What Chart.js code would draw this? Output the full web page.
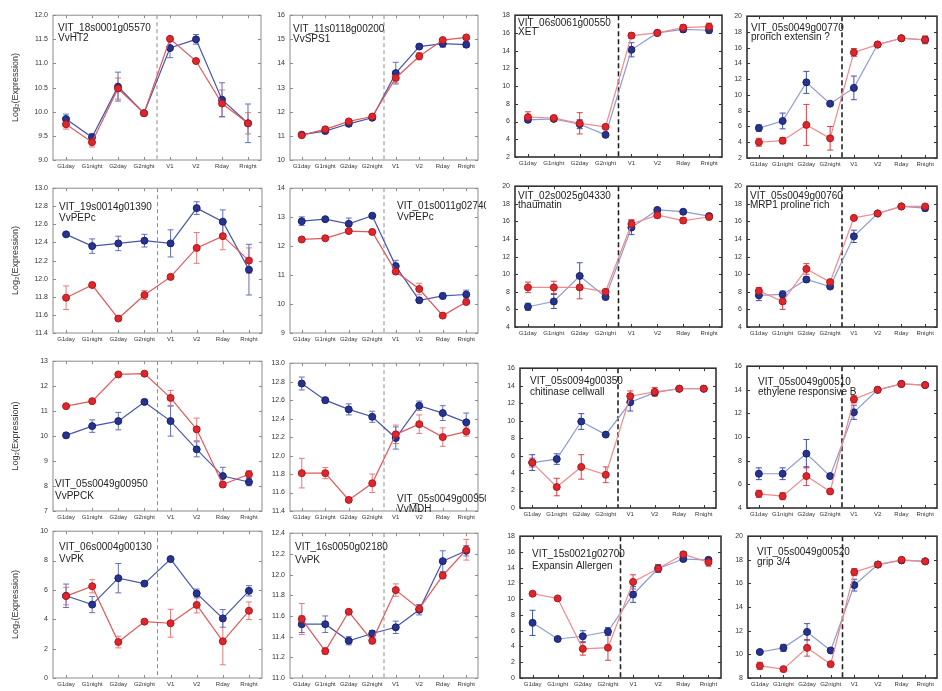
<!DOCTYPE html>
<html>
<head>
<meta charset="utf-8">
<script src="https://cdn.jsdelivr.net/npm/chart.js@4.4.0/dist/chart.umd.min.js"></script>
<style>
    body { margin: 0; background: #fff; width: 942px; height: 691px; position: relative; overflow: hidden; }
</style>
</head>
<body>
<script>
// Sampling stages (x axis)
const stages = ["G1day", "G1night", "G2day", "G2night", "V1", "V2", "Rday", "Rnight"];

// Log2 expression, mean and error per stage, blue and red lines
const ht2Blue = [9.85, 9.47, 10.52, 9.97, 11.32, 11.50, 10.25, 9.76];
const ht2BlueErr = [0.1, 0.08, 0.3, 0.03, 0.2, 0.1, 0.35, 0.4];
const ht2Red = [9.74, 9.37, 10.48, 9.97, 11.51, 11.05, 10.17, 9.76];
const ht2RedErr = [0.1, 0.1, 0.22, 0.03, 0.05, 0.05, 0.28, 0.22];

const sps1Blue = [11.05, 11.2, 11.5, 11.75, 13.6, 14.7, 14.82, 14.78];
const sps1BlueErr = [0.05, 0.08, 0.1, 0.05, 0.45, 0.1, 0.15, 0.12];
const sps1Red = [11.03, 11.27, 11.6, 11.8, 13.4, 14.3, 14.97, 15.08];
const sps1RedErr = [0.05, 0.05, 0.05, 0.05, 0.2, 0.15, 0.05, 0.05];

const xetBlue = [6.2, 6.3, 5.7, 4.5, 14.1, 16.0, 16.4, 16.3];
const xetBlueErr = [0.3, 0.2, 0.5, 0.2, 0.8, 0.1, 0.3, 0.3];
const xetRed = [6.5, 6.4, 5.8, 5.4, 15.7, 16.0, 16.6, 16.7];
const xetRedErr = [0.6, 0.2, 1.2, 0.2, 0.3, 0.1, 0.3, 0.4];

const extBlue = [5.8, 6.7, 11.6, 8.9, 10.9, 16.4, 17.2, 17.0];
const extBlueErr = [0.4, 1.0, 1.4, 0.1, 1.5, 0.2, 0.2, 0.4];
const extRed = [4.0, 4.2, 6.2, 4.5, 15.4, 16.4, 17.2, 17.0];
const extRedErr = [0.5, 0.4, 2.6, 1.5, 0.5, 0.2, 0.2, 0.5];

const pepc19Blue = [12.49, 12.36, 12.39, 12.42, 12.39, 12.78, 12.63, 12.1];
const pepc19BlueErr = [0.02, 0.08, 0.08, 0.07, 0.15, 0.07, 0.13, 0.28];
const pepc19Red = [11.79, 11.93, 11.56, 11.82, 12.02, 12.34, 12.47, 12.2];
const pepc19RedErr = [0.13, 0.02, 0.02, 0.05, 0.02, 0.17, 0.15, 0.14];

const pepc01Blue = [12.86, 12.93, 12.77, 13.05, 11.31, 10.13, 10.28, 10.33];
const pepc01BlueErr = [0.15, 0.05, 0.2, 0.05, 0.2, 0.05, 0.1, 0.15];
const pepc01Red = [12.23, 12.27, 12.52, 12.49, 11.12, 10.52, 9.6, 10.07];
const pepc01RedErr = [0.05, 0.05, 0.05, 0.05, 0.1, 0.2, 0.05, 0.05];

const thauBlue = [6.3, 6.9, 9.8, 7.4, 15.3, 17.3, 17.1, 16.6];
const thauBlueErr = [0.4, 0.8, 1.5, 0.2, 0.8, 0.2, 0.2, 0.3];
const thauRed = [8.5, 8.5, 8.5, 8.0, 15.7, 16.7, 16.1, 16.5];
const thauRedErr = [0.6, 0.7, 1.3, 0.3, 0.5, 0.3, 0.3, 0.3];

const mrp1Blue = [7.6, 7.7, 9.4, 8.6, 14.3, 16.9, 17.7, 17.5];
const mrp1BlueErr = [0.6, 0.4, 0.3, 0.2, 0.7, 0.1, 0.1, 0.3];
const mrp1Red = [8.1, 6.9, 10.6, 9.1, 16.4, 16.9, 17.7, 17.7];
const mrp1RedErr = [0.4, 0.9, 0.6, 0.2, 0.2, 0.1, 0.1, 0.2];

const ppckBlue = [10.03, 10.4, 10.6, 11.37, 10.6, 9.47, 8.4, 8.16];
const ppckBlueErr = [0.1, 0.25, 0.35, 0.1, 0.6, 0.3, 0.35, 0.15];
const ppckRed = [11.2, 11.4, 12.47, 12.5, 11.53, 10.27, 8.06, 8.47];
const ppckRedErr = [0.05, 0.05, 0.05, 0.05, 0.3, 0.45, 0.1, 0.15];

const mdhBlue = [12.78, 12.6, 12.5, 12.42, 12.19, 12.54, 12.46, 12.36];
const mdhBlueErr = [0.07, 0.03, 0.06, 0.06, 0.12, 0.05, 0.08, 0.1];
const mdhRed = [11.81, 11.81, 11.52, 11.7, 12.23, 12.34, 12.2, 12.26];
const mdhRedErr = [0.16, 0.06, 0.02, 0.1, 0.1, 0.1, 0.1, 0.05];

const chitBlue = [5.2, 5.6, 9.9, 8.4, 12.1, 13.2, 13.65, 13.65];
const chitBlueErr = [0.9, 0.6, 0.9, 0.2, 1.0, 0.2, 0.1, 0.1];
const chitRed = [5.2, 2.4, 4.7, 3.8, 12.8, 13.3, 13.65, 13.65];
const chitRedErr = [0.5, 1.0, 1.4, 0.9, 0.6, 0.5, 0.2, 0.2];

const erfBlue = [6.9, 6.9, 8.6, 6.7, 12.1, 14.0, 14.5, 14.4];
const erfBlueErr = [0.5, 0.5, 1.2, 0.1, 0.6, 0.1, 0.1, 0.1];
const erfRed = [5.2, 5.0, 6.7, 5.4, 13.2, 14.0, 14.5, 14.4];
const erfRedErr = [0.3, 0.3, 0.8, 0.1, 0.3, 0.1, 0.1, 0.1];

const pk06Blue = [5.6, 5.0, 6.8, 6.43, 8.1, 5.76, 4.06, 5.94];
const pk06BlueErr = [0.8, 0.55, 1.0, 0.1, 0.1, 0.3, 0.6, 0.35];
const pk06Red = [5.58, 6.25, 2.45, 3.84, 3.73, 4.98, 2.5, 4.58];
const pk06RedErr = [0.6, 0.45, 0.4, 0.1, 0.95, 0.55, 1.6, 0.6];

const pk16Blue = [11.52, 11.52, 11.36, 11.43, 11.49, 11.66, 12.13, 12.23];
const pk16BlueErr = [0.08, 0.08, 0.04, 0.03, 0.06, 0.05, 0.1, 0.05];
const pk16Red = [11.57, 11.26, 11.64, 11.36, 11.85, 11.67, 11.99, 12.24];
const pk16RedErr = [0.15, 0.03, 0.02, 0.03, 0.06, 0.04, 0.03, 0.1];

const expaBlue = [7.0, 4.95, 5.3, 5.9, 10.6, 13.9, 15.1, 15.0];
const expaBlueErr = [1.6, 0.1, 0.7, 0.5, 1.0, 0.5, 0.2, 0.2];
const expaRed = [10.7, 10.1, 3.7, 3.85, 12.2, 13.9, 15.7, 14.7];
const expaRedErr = [0.1, 0.1, 0.8, 1.6, 0.9, 0.4, 0.3, 0.5];

const gripBlue = [10.2, 10.55, 11.9, 10.33, 15.86, 17.6, 17.95, 17.87];
const gripBlueErr = [0.1, 0.3, 0.7, 0.1, 0.5, 0.1, 0.1, 0.1];
const gripRed = [9.03, 8.75, 10.55, 9.17, 16.96, 17.6, 18.0, 17.87];
const gripRedErr = [0.3, 0.1, 0.7, 0.1, 0.3, 0.1, 0.1, 0.1];

// Y axis ranges: [min, max, step, decimals]
const ht2Axis = [9, 12, 0.5, 1];
const sps1Axis = [10, 16, 1, 0];
const xetAxis = [2, 18, 2, 0];
const extAxis = [2, 20, 2, 0];
const pepc19Axis = [11.4, 13.0, 0.2, 1];
const pepc01Axis = [9, 14, 1, 0];
const thauAxis = [4, 20, 2, 0];
const mrp1Axis = [4, 20, 2, 0];
const ppckAxis = [7, 13, 1, 0];
const mdhAxis = [11.4, 13.0, 0.2, 1];
const chitAxis = [0, 16, 2, 0];
const erfAxis = [4, 16, 2, 0];
const pk06Axis = [0, 10, 2, 0];
const pk16Axis = [11.0, 12.4, 0.2, 1];
const expaAxis = [0, 18, 2, 0];
const gripAxis = [8, 20, 2, 0];

// Two looks: thin grey frames for the first two columns, heavy black ones for the others
const themes = {
    light: {
        frame: "#8c8c8c", frameWidth: 1, sep: "#8c8c8c", sepWidth: 1, sepDash: [4, 3],
        red: { line: "#e2575a", dot: "#e0262b", edge: "#a9181d", err: "#e67a7c" },
        blue: { line: "#4756ad", dot: "#26338f", edge: "#18226a", err: "#6370bb" },
    },
    dark: {
        frame: "#333", frameWidth: 1.6, sep: "#222", sepWidth: 1.6, sepDash: [5, 3],
        red: { line: "#f08a8c", dot: "#e0262b", edge: "#a9181d", err: "#d94045" },
        blue: { line: "#8d9bd3", dot: "#26338f", edge: "#18226a", err: "#3e51b0" },
    },
};

// Panel layout: box = plot area [left, top, right, bottom], text = [dx, baseline dy, line height]
const panels = [
    { lines: ["VIT_18s0001g05570", "VvHT2"], blue: ht2Blue, blueErr: ht2BlueErr, red: ht2Red, redErr: ht2RedErr, axis: ht2Axis, col: 0, box: [53, 12, 261, 160], text: [5, 15.5, 10] },
    { lines: ["VIT_11s0118g00200", "VvSPS1"], blue: sps1Blue, blueErr: sps1BlueErr, red: sps1Red, redErr: sps1RedErr, axis: sps1Axis, col: 1, box: [290, 12, 478, 160], text: [3, 16.5, 10] },
    { lines: ["VIT_06s0061g00550", "XET"], blue: xetBlue, blueErr: xetBlueErr, red: xetRed, redErr: xetRedErr, axis: xetAxis, col: 2, box: [515, 12, 722, 157], text: [3, 11, 9] },
    { lines: ["VIT_05s0049g00770", "prorich extensin ?"], blue: extBlue, blueErr: extBlueErr, red: extRed, redErr: extRedErr, axis: extAxis, col: 3, box: [747, 13, 940, 158], text: [4, 14.6, 9.5] },
    { lines: ["VIT_19s0014g01390", "VvPEPc"], blue: pepc19Blue, blueErr: pepc19BlueErr, red: pepc19Red, redErr: pepc19RedErr, axis: pepc19Axis, col: 0, box: [53, 185, 262, 333], text: [6, 21.5, 11] },
    { lines: ["VIT_01s0011g02740", "VvPEPc"], blue: pepc01Blue, blueErr: pepc01BlueErr, red: pepc01Red, redErr: pepc01RedErr, axis: pepc01Axis, col: 1, box: [290, 185, 478, 333], text: [107, 20.5, 11] },
    { lines: ["VIT_02s0025g04330", "thaumatin"], blue: thauBlue, blueErr: thauBlueErr, red: thauRed, redErr: thauRedErr, axis: thauAxis, col: 2, box: [515, 183, 722, 327], text: [3, 12.5, 9] },
    { lines: ["VIT_05s0049g00760", "MRP1 proline rich"], blue: mrp1Blue, blueErr: mrp1BlueErr, red: mrp1Red, redErr: mrp1RedErr, axis: mrp1Axis, col: 3, box: [747, 183, 940, 327], text: [3, 12.5, 9] },
    { lines: ["VIT_05s0049g00950", "VvPPCK"], blue: ppckBlue, blueErr: ppckBlueErr, red: ppckRed, redErr: ppckRedErr, axis: ppckAxis, col: 0, box: [53, 358, 262, 511], text: [2, 125.6, 12.5] },
    { lines: ["VIT_05s0049g00950", "VvMDH"], blue: mdhBlue, blueErr: mdhBlueErr, red: mdhRed, redErr: mdhRedErr, axis: mdhAxis, col: 1, box: [290, 360, 478, 511], text: [107, 138.3, 10] },
    { lines: ["VIT_05s0094g00350", "chitinase cellwall"], blue: chitBlue, blueErr: chitBlueErr, red: chitRed, redErr: chitRedErr, axis: chitAxis, col: 2, box: [520, 365, 716, 508], text: [10, 15.6, 11] },
    { lines: ["VIT_05s0049g00510", "ethylene responsive B"], blue: erfBlue, blueErr: erfBlueErr, red: erfRed, redErr: erfRedErr, axis: erfAxis, col: 3, box: [747, 363, 940, 508], text: [11, 18.6, 10] },
    { lines: ["VIT_06s0004g00130", "VvPK"], blue: pk06Blue, blueErr: pk06BlueErr, red: pk06Red, redErr: pk06RedErr, axis: pk06Axis, col: 0, box: [53, 528, 262, 678], text: [6, 18.6, 12.5] },
    { lines: ["VIT_16s0050g02180", "VvPK"], blue: pk16Blue, blueErr: pk16BlueErr, red: pk16Red, redErr: pk16RedErr, axis: pk16Axis, col: 1, box: [290, 530, 478, 678], text: [5, 16.6, 13] },
    { lines: ["VIT_15s0021g02700", "Expansin Allergen"], blue: expaBlue, blueErr: expaBlueErr, red: expaRed, redErr: expaRedErr, axis: expaAxis, col: 2, box: [520, 533, 721, 678], text: [12, 20.6, 12] },
    { lines: ["VIT_05s0049g00520", "grip 3/4"], blue: gripBlue, blueErr: gripBlueErr, red: gripRed, redErr: gripRedErr, axis: gripAxis, col: 3, box: [748, 533, 940, 678], text: [9, 18.6, 10] },
];

Chart.defaults.font.family = '"Liberation Sans", Arial, sans-serif';

// Separator, error bars, frame, inner tick marks and gene label
const panelDecor = {
    id: "panelDecor",
    beforeDatasetsDraw(chart, args, opts) {
        const { ctx, chartArea: a, scales: { x, y } } = chart;
        const t = opts.theme;

        // dashed line between G2night and V1
        const sx = (x.getPixelForValue(3) + x.getPixelForValue(4)) / 2;
        ctx.save();
        ctx.strokeStyle = t.sep;
        ctx.lineWidth = t.sepWidth;
        ctx.setLineDash(t.sepDash);
        ctx.beginPath();
        ctx.moveTo(sx, a.top);
        ctx.lineTo(sx, a.bottom);
        ctx.stroke();
        ctx.setLineDash([]);

        // error bars with caps
        chart.data.datasets.forEach((ds, di) => {
            const meta = chart.getDatasetMeta(di);
            ctx.strokeStyle = ds.errColor;
            ctx.lineWidth = 1;
            ds.errors.forEach((e, i) => {
                if (!e) return;
                const px = meta.data[i].x;
                const hi = y.getPixelForValue(ds.data[i] + e);
                const lo = y.getPixelForValue(ds.data[i] - e);
                ctx.beginPath();
                ctx.moveTo(px, hi); ctx.lineTo(px, lo);
                ctx.moveTo(px - 3, hi); ctx.lineTo(px + 3, hi);
                ctx.moveTo(px - 3, lo); ctx.lineTo(px + 3, lo);
                ctx.stroke();
            });
        });
        ctx.restore();
    },
    afterDraw(chart, args, opts) {
        const { ctx, chartArea: a, scales: { x, y } } = chart;
        const t = opts.theme;
        ctx.save();

        // inward ticks on all four sides
        ctx.strokeStyle = t.frame;
        ctx.lineWidth = 1;
        ctx.beginPath();
        x.ticks.forEach((tk, i) => {
            const px = Math.round(x.getPixelForTick(i)) + 0.5;
            ctx.moveTo(px, a.bottom); ctx.lineTo(px, a.bottom - 3);
            ctx.moveTo(px, a.top); ctx.lineTo(px, a.top + 3);
        });
        y.ticks.forEach((tk, i) => {
            const py = Math.round(y.getPixelForTick(i)) + 0.5;
            ctx.moveTo(a.left, py); ctx.lineTo(a.left + 3, py);
            ctx.moveTo(a.right, py); ctx.lineTo(a.right - 3, py);
        });
        ctx.stroke();

        // frame
        ctx.lineWidth = t.frameWidth;
        ctx.strokeRect(a.left, a.top, a.right - a.left, a.bottom - a.top);

        // gene id and name
        const [dx, dy, lh] = opts.text;
        ctx.fillStyle = "#222";
        ctx.font = '10px "Liberation Sans", Arial, sans-serif';
        ctx.textBaseline = "alphabetic";
        opts.lines.forEach((s, i) => ctx.fillText(s, a.left + dx, a.top + dy + i * lh));
        ctx.restore();
    },
};

function series(vals, errs, c) {
    return {
        data: vals,
        errors: errs,
        errColor: c.err,
        borderColor: c.line,
        borderWidth: 1.2,
        pointBackgroundColor: c.dot,
        pointBorderColor: c.edge,
        pointBorderWidth: 1,
        pointRadius: 3.5,
        tension: 0,
    };
}

function makePanel(p) {
    const [L, T, R, B] = p.box;
    const [yMin, yMax, step, dec] = p.axis;
    const yW = p.col === 0 ? 53 : (p.col === 3 ? 24 : 26);
    const padT = 6, padR = p.col === 3 ? 2 : 8, xH = 14;
    const w = (R - L) + yW + padR, h = (B - T) + padT + xH;
    const theme = p.col < 2 ? themes.light : themes.dark;

    const cv = document.createElement("canvas");
    cv.width = w;
    cv.height = h;
    cv.style.cssText = `position:absolute;left:${L - yW}px;top:${T - padT}px;width:${w}px;height:${h}px`;
    document.body.appendChild(cv);

    new Chart(cv, {
        type: "line",
        data: {
            labels: stages,
            datasets: [series(p.red, p.redErr, theme.red), series(p.blue, p.blueErr, theme.blue)],
        },
        options: {
            responsive: false,
            animation: false,
            devicePixelRatio: 1,
            layout: { padding: { top: padT, right: padR, left: 0, bottom: 0 } },
            plugins: {
                legend: { display: false },
                tooltip: { enabled: false },
                panelDecor: { theme: theme, lines: p.lines, text: p.text },
            },
            scales: {
                x: {
                    offset: true,
                    grid: { display: false, drawTicks: false },
                    border: { display: false },
                    ticks: { autoSkip: false, maxRotation: 0, minRotation: 0, padding: 3, color: "#333", font: { size: 6 } },
                    afterFit: (s) => { s.height = xH; },
                },
                y: {
                    min: yMin,
                    max: yMax,
                    grid: { display: false, drawTicks: false },
                    border: { display: false },
                    ticks: { stepSize: step, padding: 5, color: "#333", font: { size: 7 }, callback: (v) => v.toFixed(dec) },
                    title: {
                        display: p.col === 0,
                        text: "Log\u2082(Expression)",
                        color: "#333",
                        font: { size: 9 },
                        padding: { top: 10, bottom: 0 },
                    },
                    afterFit: (s) => { s.width = yW; },
                },
            },
        },
        plugins: [panelDecor],
    });
}

panels.forEach(makePanel);
</script>
</body>
</html>
